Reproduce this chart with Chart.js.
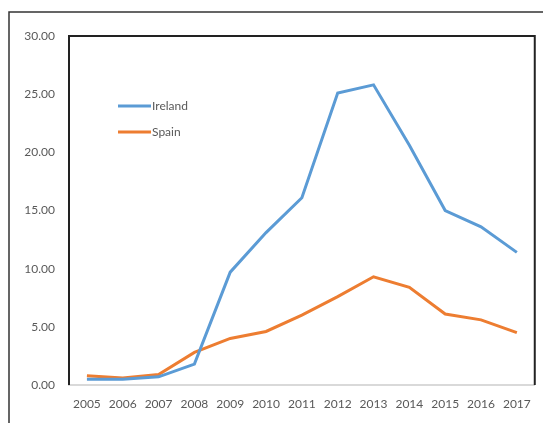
<!DOCTYPE html>
<html>
<head>
<meta charset="utf-8">
<script src="https://cdn.jsdelivr.net/npm/chart.js@4/dist/chart.umd.min.js"></script>
<style>
  html, body { margin: 0; padding: 0; background: #fff; }
  canvas { display: block; }
</style>
</head>
<body>
<canvas id="lineChart" width="543" height="423"></canvas>
<script>
// Data
const years = ["2005", "2006", "2007", "2008", "2009", "2010", "2011", "2012", "2013", "2014", "2015", "2016", "2017"];
const ireland = [0.5, 0.5, 0.7, 1.8, 9.7, 13.1, 16.1, 25.1, 25.8, 20.6, 15.0, 13.6, 11.4];
const spain = [0.8, 0.6, 0.9, 2.8, 4.0, 4.6, 6.0, 7.6, 9.3, 8.4, 6.1, 5.6, 4.5];
const yTicks = [0, 5, 10, 15, 20, 25, 30];

const textColor = "#595959";
const fontFamily = "Lato, 'Open Sans', sans-serif";

// Frames + legend drawn on top of the chart
const framePlugin = {
  id: "frames",
  afterDraw(chart) {
    const ctx = chart.ctx;
    const area = chart.chartArea;
    ctx.save();
    // outer frame (left + top edges)
    ctx.strokeStyle = "#333";
    ctx.lineWidth = 1.5;
    ctx.beginPath();
    ctx.moveTo(9, 423);
    ctx.lineTo(9, 12);
    ctx.lineTo(543, 12);
    ctx.stroke();
    // inner plot frame (left, top, right)
    ctx.strokeStyle = "#222";
    ctx.lineWidth = 2;
    ctx.beginPath();
    ctx.moveTo(area.left, area.bottom);
    ctx.lineTo(area.left, area.top);
    ctx.lineTo(area.right, area.top);
    ctx.lineTo(area.right, area.bottom);
    ctx.stroke();

    // legend
    ctx.font = "12px " + fontFamily;
    ctx.textBaseline = "middle";
    ctx.textAlign = "left";
    chart.data.datasets.forEach((ds, i) => {
      const y = 106 + i * 26;
      ctx.strokeStyle = ds.borderColor;
      ctx.lineWidth = 3;
      ctx.beginPath();
      ctx.moveTo(118, y);
      ctx.lineTo(151, y);
      ctx.stroke();
      ctx.fillStyle = textColor;
      ctx.fillText(ds.label, 152, y);
    });
    ctx.restore();
  }
};

const ctx = document.getElementById("lineChart").getContext("2d");
const chart = new Chart(ctx, {
  type: "line",
  data: {
    labels: years,
    datasets: [
      {
        label: "Ireland",
        data: ireland,
        borderColor: "#5b9bd5",
        borderWidth: 3,
        pointRadius: 0,
        tension: 0
      },
      {
        label: "Spain",
        data: spain,
        borderColor: "#ed7d31",
        borderWidth: 3,
        pointRadius: 0,
        tension: 0
      }
    ]
  },
  options: {
    responsive: false,
    animation: false,
    layout: { padding: { top: 36, right: 6, bottom: 0, left: 0 } },
    plugins: {
      legend: { display: false },
      tooltip: { enabled: false }
    },
    scales: {
      x: {
        offset: true,
        grid: { display: false, drawTicks: false },
        border: { display: true, color: "#d9d9d9", width: 2 },
        ticks: {
          color: textColor,
          font: { family: fontFamily, size: 12 },
          padding: 12,
          maxRotation: 0,
          autoSkip: false
        },
        afterFit(scale) { scale.height = 38; }
      },
      y: {
        min: 0,
        max: 30,
        afterBuildTicks(scale) { scale.ticks = yTicks.map(v => ({ value: v })); },
        grid: { display: false, drawTicks: false },
        border: { display: false },
        ticks: {
          color: textColor,
          font: { family: fontFamily, size: 12 },
          padding: 14,
          callback: (v) => Number(v).toFixed(2)
        },
        afterFit(scale) { scale.width = 69; }
      }
    }
  },
  plugins: [framePlugin]
});
</script>
</body>
</html>
